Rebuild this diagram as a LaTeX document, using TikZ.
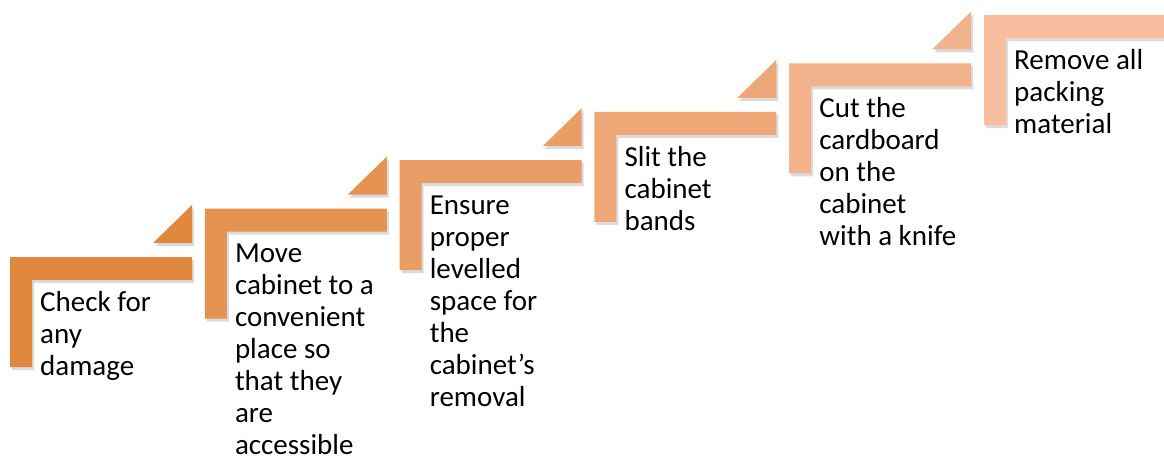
\documentclass[tikz,border=0pt]{standalone}
\usepackage{fontspec}
\setmainfont{Carlito}
\definecolor{s1}{HTML}{E0883E}
\definecolor{s2}{HTML}{E59351}
\definecolor{s3}{HTML}{E99E65}
\definecolor{s4}{HTML}{EEA878}
\definecolor{s5}{HTML}{F2B38C}
\definecolor{s6}{HTML}{F7BE9F}
\newcommand{\firststrut}{\rule{0pt}{24pt}}
\tikzset{
  steptext/.style={anchor=north west, align=left, font=\fontsize{29}{32}\selectfont, inner sep=0pt, text=black},
  shadowfill/.style={fill=black, opacity=0.14},
}
\begin{document}
\begin{tikzpicture}[x=1pt,y=-1pt]
\useasboundingbox (0,0) rectangle (1164,455);
\foreach \i/\col/\tri in {0/s1/1,1/s2/1,2/s3/1,3/s4/1,4/s5/1,5/s6/0} {
  \pgfmathsetmacro\X{10+194.8*\i}
  \pgfmathsetmacro\Y{257-48.4*\i}
  % shadows
  \fill[shadowfill, shift={(2,3)}] (\X,\Y) -- (\X+182,\Y) -- (\X+182,\Y+23) -- (\X+22,\Y+23) -- (\X+22,\Y+110) -- (\X,\Y+110) -- cycle;
  \ifnum\tri=1
    \fill[shadowfill, shift={(2,3)}] (\X+182,\Y-52) -- (\X+182,\Y-14) -- (\X+143,\Y-14) -- cycle;
  \fi
  % shapes
  \fill[\col] (\X,\Y) -- (\X+182,\Y) -- (\X+182,\Y+23) -- (\X+22,\Y+23) -- (\X+22,\Y+110) -- (\X,\Y+110) -- cycle;
  \ifnum\tri=1
    \fill[\col] (\X+182,\Y-52) -- (\X+182,\Y-14) -- (\X+143,\Y-14) -- cycle;
  \fi
  \coordinate (c\i) at (\X+30,\Y+30);
}
\node[steptext] (t1) at (c0) {\firststrut Check for\\any\\damage};
\node[steptext] (t2) at (c1) {\firststrut Move\\cabinet to a\\convenient\\place so\\that they\\are\\accessible};
\node[steptext] (t3) at (c2) {\firststrut Ensure\\proper\\levelled\\space for\\the\\cabinet’s\\removal};
\node[steptext] (t4) at (c3) {\firststrut Slit the\\cabinet\\bands};
\node[steptext] (t5) at (c4) {\firststrut Cut the\\cardboard\\on the\\cabinet\\with a knife};
\node[steptext] (t6) at (c5) {\firststrut Remove all\\packing\\material};
\end{tikzpicture}
\end{document}
